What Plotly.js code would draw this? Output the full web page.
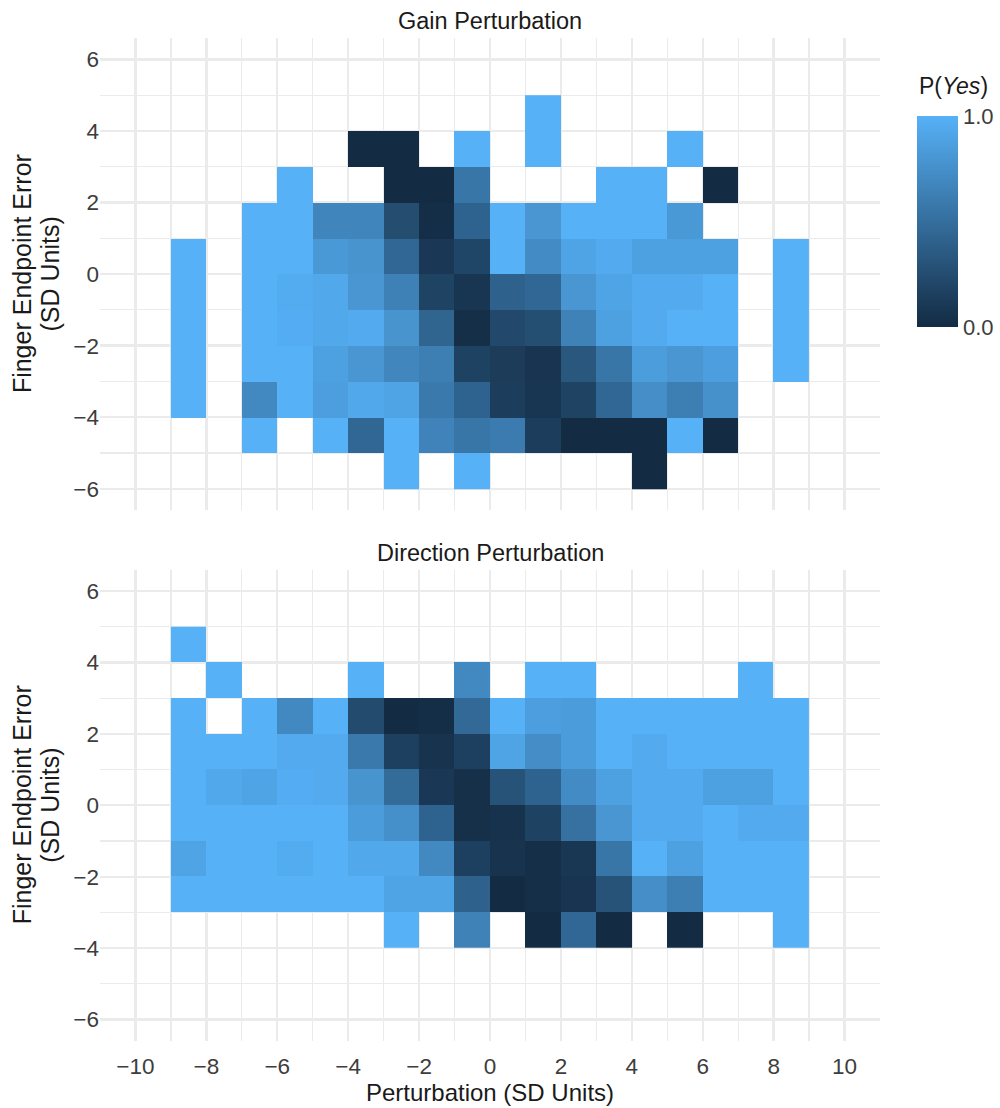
<!DOCTYPE html>
<html>
<head>
<meta charset="utf-8">
<script src="https://cdn.plot.ly/plotly-3.0.1.min.js"></script>
<style>
  html, body { margin: 0; padding: 0; background: #ffffff; }
  #chart { width: 1000px; height: 1108px; }
</style>
</head>
<body>
<div id="chart"></div>
<script>
// Bin centres (SD units) shared by both panels
const xCenters = [-8.5, -7.5, -6.5, -5.5, -4.5, -3.5, -2.5, -1.5, -0.5,
                  0.5, 1.5, 2.5, 3.5, 4.5, 5.5, 6.5, 7.5, 8.5];
const N = null;

// Gain perturbation: rows from y = -5.5 (bottom) to y = 4.5 (top)
const gainY = [-5.5, -4.5, -3.5, -2.5, -1.5, -0.5, 0.5, 1.5, 2.5, 3.5, 4.5];
const gainP = [
  [N, N, N, N, N, N, 1, N, 1, N, N, N, N, 0, N, N, N, N],
  [N, N, 1, N, 1, 0.45, 1, 0.66, 0.56, 0.6, 0.14, 0, 0, 0, 1, 0, N, N],
  [1, N, 0.7, 1, 0.86, 0.93, 0.9, 0.58, 0.42, 0.14, 0.08, 0.18, 0.45, 0.74, 0.62, 0.76, N, N],
  [1, N, 1, 1, 0.88, 0.8, 0.68, 0.62, 0.17, 0.13, 0.07, 0.33, 0.56, 0.85, 0.8, 0.86, N, 1],
  [1, N, 1, 0.97, 0.93, 0.95, 0.78, 0.43, 0.03, 0.22, 0.26, 0.65, 0.88, 0.95, 1, 1, N, 1],
  [1, N, 1, 0.96, 0.93, 0.8, 0.64, 0.18, 0.08, 0.4, 0.45, 0.8, 0.9, 0.95, 0.95, 1, N, 1],
  [1, N, 1, 1, 0.82, 0.78, 0.45, 0.1, 0.2, 1, 0.72, 0.9, 0.95, 0.88, 0.88, 0.88, N, 1],
  [N, N, 1, 1, 0.67, 0.67, 0.25, 0.02, 0.42, 1, 0.8, 1, 1, 1, 0.82, N, N, N],
  [N, N, N, 1, N, N, 0, 0, 0.56, N, N, N, 1, 1, N, 0, N, N],
  [N, N, N, N, N, 0, 0, N, 1, N, 1, N, N, N, 1, N, N, N],
  [N, N, N, N, N, N, N, N, N, N, 1, N, N, N, N, N, N, N]
];

// Direction perturbation: rows from y = -3.5 (bottom) to y = 4.5 (top)
const dirY = [-3.5, -2.5, -1.5, -0.5, 0.5, 1.5, 2.5, 3.5, 4.5];
const dirP = [
  [N, N, N, N, N, N, 1, N, 0.65, N, 0, 0.45, 0, N, 0, N, N, 1],
  [1, 1, 1, 1, 1, 1, 0.9, 0.9, 0.4, 0, 0.03, 0.07, 0.3, 0.74, 0.62, 1, 1, 1],
  [0.9, 1, 1, 0.96, 1, 0.93, 0.93, 0.7, 0.16, 0.06, 0.03, 0.09, 0.56, 1, 0.88, 1, 1, 1],
  [1, 1, 1, 1, 1, 0.84, 0.75, 0.42, 0.04, 0.05, 0.17, 0.52, 0.8, 0.95, 0.95, 1, 0.95, 0.95],
  [1, 0.93, 0.9, 0.97, 0.95, 0.78, 0.48, 0.1, 0.04, 0.3, 0.42, 0.72, 0.88, 0.95, 0.95, 0.88, 0.88, 1],
  [1, 1, 1, 0.95, 0.95, 0.58, 0.16, 0.06, 0.16, 0.9, 0.73, 0.84, 1, 0.95, 1, 1, 1, 1],
  [1, N, 1, 0.7, 1, 0.24, 0, 0.02, 0.46, 1, 0.86, 0.84, 1, 1, 1, 1, 1, 1],
  [N, 1, N, N, N, 1, N, N, 0.7, N, 1, 1, N, N, N, N, 1, N],
  [1, N, N, N, N, N, N, N, N, N, N, N, N, N, N, N, N, N]
];

const panelTitles = ['Gain Perturbation', 'Direction Perturbation'];
const xTicks = [-10, -8, -6, -4, -2, 0, 2, 4, 6, 8, 10];
const yTicks = [-6, -4, -2, 0, 2, 4, 6];

const FONT = '"Liberation Sans", Arial, Helvetica, sans-serif';
const GRID = '#EBEBEB';
const TICK_COLOR = '#3D3D3D';
const TITLE_COLOR = '#1A1A1A';

const traces = [
  { type: 'heatmap', x: xCenters, y: gainY, z: gainP,
    coloraxis: 'coloraxis', xaxis: 'x', yaxis: 'y', hoverongaps: false },
  { type: 'heatmap', x: xCenters, y: dirY, z: dirP,
    coloraxis: 'coloraxis', xaxis: 'x2', yaxis: 'y2', hoverongaps: false }
];

function xAxis(showLabels, anchor) {
  return {
    anchor: anchor, domain: [0, 1], range: [-11, 11],
    tickmode: 'array', tickvals: xTicks,
    showticklabels: showLabels, ticks: '',
    tickfont: { family: FONT, size: 22.5, color: TICK_COLOR },
    ticklabelstandoff: 9,
    showgrid: true, gridcolor: GRID, gridwidth: 2.4,
    minor: { dtick: 1, tick0: 0, showgrid: true, gridcolor: GRID, gridwidth: 1.2 },
    zeroline: false, showline: false, fixedrange: true
  };
}
function yAxis(domain, anchor) {
  return {
    anchor: anchor, domain: domain, range: [-6.6, 6.6],
    tickmode: 'array', tickvals: yTicks, ticks: '',
    tickfont: { family: FONT, size: 22.5, color: TICK_COLOR },
    ticklabelstandoff: 14.5,
    showgrid: true, gridcolor: GRID, gridwidth: 2.4,
    minor: { dtick: 1, tick0: 0, showgrid: true, gridcolor: GRID, gridwidth: 1.2 },
    zeroline: false, showline: false, fixedrange: true
  };
}

const topDomain = [0.5292, 1];
const botDomain = [0, 0.47];

const xb = xAxis(true, 'y2');
xb.title = { text: 'Perturbation (SD Units)', font: { family: FONT, size: 24, color: TITLE_COLOR }, standoff: 6 };

const annotations = [
  { text: panelTitles[0], xref: 'paper', yref: 'paper', x: 0.5, y: 1.0165,
    xanchor: 'center', yanchor: 'middle', showarrow: false,
    font: { family: FONT, size: 23.5, color: TITLE_COLOR } },
  { text: panelTitles[1], xref: 'paper', yref: 'paper', x: 0.5, y: 0.4862,
    xanchor: 'center', yanchor: 'middle', showarrow: false,
    font: { family: FONT, size: 23.5, color: TITLE_COLOR } },
  { text: 'P(<i>Yes</i>)', xref: 'paper', yref: 'paper', x: 1.0468, y: 0.9522,
    xanchor: 'left', yanchor: 'middle', showarrow: false,
    font: { family: FONT, size: 23, color: TITLE_COLOR } }
];
// Two-line y-axis titles for each panel
[topDomain, botDomain].forEach(function (dom) {
  const yc = (dom[0] + dom[1]) / 2;
  annotations.push({ text: 'Finger Endpoint Error', xref: 'paper', yref: 'paper',
    x: -0.1, y: yc, xanchor: 'center', yanchor: 'middle', textangle: -90,
    showarrow: false, font: { family: FONT, size: 25, color: TITLE_COLOR } });
  annotations.push({ text: '(SD Units)', xref: 'paper', yref: 'paper',
    x: -0.0635, y: yc, xanchor: 'center', yanchor: 'middle', textangle: -90,
    showarrow: false, font: { family: FONT, size: 25, color: TITLE_COLOR } });
});

const layout = {
  width: 1000, height: 1108,
  margin: { l: 100, r: 115, t: 38, b: 67.4, pad: 0 },
  paper_bgcolor: '#ffffff', plot_bgcolor: '#ffffff',
  font: { family: FONT, color: TITLE_COLOR },
  showlegend: false,
  xaxis: xAxis(false, 'y'),
  yaxis: yAxis(topDomain, 'x'),
  xaxis2: xb,
  yaxis2: yAxis(botDomain, 'x2'),
  coloraxis: {
    cmin: 0, cmax: 1,
    colorscale: [[0, '#132B43'], [1, '#56B1F7']],
    colorbar: {
      thickness: 41, thicknessmode: 'pixels',
      len: 211, lenmode: 'pixels',
      x: 1.0468, xanchor: 'left', xpad: 0,
      y: 0.9222, yanchor: 'top', ypad: 0,
      outlinewidth: 0,
      tickmode: 'array', tickvals: [0, 1], ticktext: ['0.0', '1.0'],
      ticks: '', ticklabelposition: 'outside',
      tickfont: { family: FONT, size: 22, color: TICK_COLOR }
    }
  },
  annotations: annotations
};

Plotly.newPlot('chart', traces, layout, { displayModeBar: false, staticPlot: true });
</script>
</body>
</html>
